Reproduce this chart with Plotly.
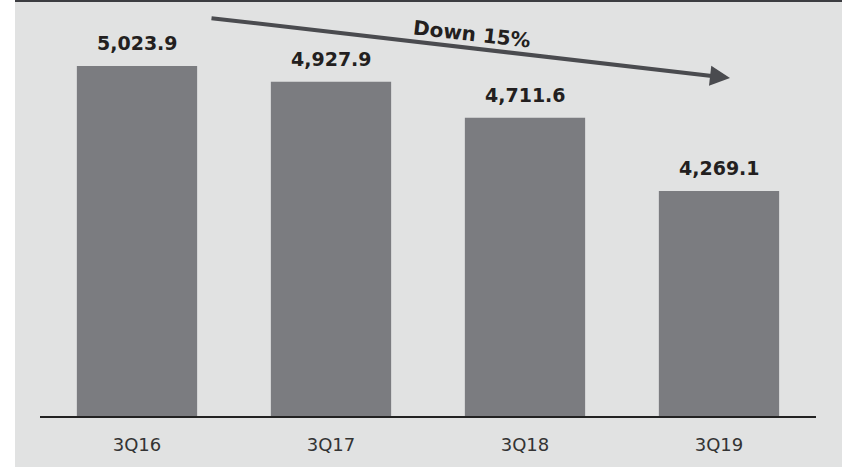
import plotly.graph_objects as go

# Quarterly values
quarters = ["3Q16", "3Q17", "3Q18", "3Q19"]
values = [5023.9, 4927.9, 4711.6, 4269.1]
value_labels = ["5,023.9", "4,927.9", "4,711.6", "4,269.1"]
trend_label = "Down 15%"

W, H = 842, 467
L, R, T, B = 40, 26, 0, 51
plot_w = W - L - R
plot_h = H - T - B

bg = "#e1e2e2"
bar_color = "#7b7c80"
dark = "#4a4b4f"
text_dark = "#231f20"

y_min = 2910
y_max = y_min + plot_h / 0.1656

fig = go.Figure()
fig.add_trace(go.Bar(
    x=quarters, y=values,
    marker=dict(color=bar_color, line=dict(width=0)),
    hoverinfo="skip",
))

annotations = []
for q, v, t in zip(quarters, values, value_labels):
    annotations.append(dict(
        x=q, y=v, xref="x", yref="y", text=t, showarrow=False,
        xanchor="center", yanchor="bottom", yshift=10,
        font=dict(family="DejaVu Sans", size=19, color=text_dark, weight="bold"),
    ))


def px_x(px):
    return (px - L) / plot_w


def px_y(py):
    return (H - B - py) / plot_h


# Trend arrow
annotations.append(dict(
    x=px_x(730), y=px_y(78), xref="paper", yref="paper",
    ax=210 - 730, ay=18 - 78, axref="pixel", ayref="pixel",
    showarrow=True, arrowhead=2, arrowsize=1.0, arrowwidth=4,
    arrowcolor=dark, text="",
))
annotations.append(dict(
    x=px_x(472), y=px_y(34), xref="paper", yref="paper",
    xanchor="center", yanchor="middle",
    text=trend_label, showarrow=False, textangle=6.5,
    font=dict(family="DejaVu Sans", size=20, color=text_dark, weight="bold"),
))

shapes = [
    # white strip on the left edge
    dict(type="rect", xref="paper", yref="paper",
         x0=px_x(0), x1=px_x(15), y0=px_y(H), y1=px_y(0),
         fillcolor="white", line=dict(width=0), layer="below"),
    # dark rule along the top
    dict(type="line", xref="paper", yref="paper",
         x0=px_x(15), x1=px_x(W), y0=px_y(1), y1=px_y(1),
         line=dict(color="#3c3d41", width=2)),
]

fig.update_layout(
    width=W, height=H,
    margin=dict(l=L, r=R, t=T, b=B, pad=0),
    paper_bgcolor=bg, plot_bgcolor=bg,
    bargap=0.38,
    showlegend=False,
    annotations=annotations,
    shapes=shapes,
    xaxis=dict(
        showline=True, linecolor="#222222", linewidth=2,
        showgrid=False, ticks="", zeroline=False,
        tickfont=dict(family="DejaVu Sans", size=18, color="#333333"),
        ticklabelstandoff=11,
    ),
    yaxis=dict(range=[y_min, y_max], visible=False, showgrid=False, zeroline=False),
)

fig.write_html("out.html")
